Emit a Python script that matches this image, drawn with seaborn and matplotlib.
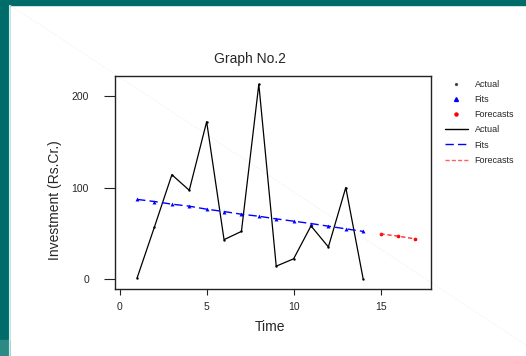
import matplotlib
matplotlib.use("Agg")
import matplotlib.pyplot as plt
from matplotlib.lines import Line2D
from matplotlib.patches import Rectangle
import seaborn as sns

# values
time_actual = list(range(1, 15))
actual = [1, 57, 114, 97, 172, 43, 52, 213, 14, 22, 58, 35, 100, 0]
fits = [87, 84.7, 81.8, 79.6, 76.3, 73.7, 70.8, 68.6, 65.7, 63.2, 60.6, 57.7, 54.8, 52]
time_fc = [15, 16, 17]
forecasts = [49.3, 46.8, 43.8]
x_ticks = [0, 5, 10, 15]
y_ticks = [0, 100, 200]

sns.set_style("ticks")
plt.rcParams['font.family'] = ['Liberation Sans', 'DejaVu Sans']

W, H = 526, 356
fig = plt.figure(figsize=(W / 100, H / 100), dpi=100, facecolor="white")

# slide decoration: teal frame + faint diagonal
teal = "#006c69"
fig.add_artist(Rectangle((0, 0), 9 / W, 1, transform=fig.transFigure, color=teal, zorder=-5))
fig.add_artist(Rectangle((0, 0), 9 / W, 16 / H, transform=fig.transFigure, color="#2b8a84", zorder=-4))
fig.add_artist(Rectangle((0, 1 - 5 / H), 1, 5 / H, transform=fig.transFigure, color=teal, zorder=-5))
fig.add_artist(Line2D([9.5 / W, 9.5 / W], [0, 1 - 5 / H], transform=fig.transFigure,
                      color="#c8eeee", lw=0.8, zorder=-3))
fig.add_artist(Line2D([10 / W, 1], [1 - 5 / H, 1 - 345 / H], transform=fig.transFigure,
                      color="#ececec", lw=0.5, ls=(0, (2, 2)), zorder=-3))

ax = fig.add_axes([115 / W, 1 - 289 / H, 316 / W, 213 / H])
ax.patch.set_alpha(0)

sns.lineplot(x=time_actual, y=actual, color="black", lw=0.9, ax=ax)
sns.scatterplot(x=time_actual, y=actual, color="black", s=3, marker="o", linewidth=0, ax=ax)
sns.lineplot(x=time_actual, y=fits, color="blue", lw=1.0, linestyle=(0, (6, 3)), ax=ax)
sns.scatterplot(x=time_actual, y=fits, color="blue", s=8, marker="^", linewidth=0, ax=ax)
sns.lineplot(x=time_fc, y=forecasts, color="#ff2a2a", lw=1.0, linestyle=(0, (3, 2)), ax=ax)
sns.scatterplot(x=time_fc, y=forecasts, color="red", s=7, marker="o", linewidth=0, ax=ax)

ax.set_xlim(-0.27, 17.9)
ax.set_ylim(-11, 222)
ax.set_xticks(x_ticks)
ax.set_yticks(y_ticks)
ax.tick_params(axis="x", length=4.5, width=0.8, pad=5, labelsize=7.5, color="#222222")
ax.tick_params(axis="y", length=7.7, width=0.8, pad=11, labelsize=7.5, color="#222222")
for s in ax.spines.values():
    s.set_color("#222222")
    s.set_linewidth(1.0)

ax.set_xlabel("Time", fontsize=10)
ax.xaxis.set_label_coords(0.49, -0.145)
ax.set_ylabel("Investment (Rs.Cr.)", fontsize=10)
ax.yaxis.set_label_coords(-0.168, 0.418)

fig.text(250 / W, 1 - 59 / H, "Graph No.2", ha="center", va="center", fontsize=10)

handles = [
    Line2D([], [], ls="none", marker="o", color="#444444", markersize=1.3),
    Line2D([], [], ls="none", marker="^", color="blue", markersize=2.8),
    Line2D([], [], ls="none", marker="o", color="red", markersize=2.2),
    Line2D([], [], color="black", lw=1.0),
    Line2D([], [], color="blue", lw=1.0, ls=(0, (6, 3))),
    Line2D([], [], color="#ff6060", lw=1.0, ls=(0, (3, 1.5))),
]
labels = ["Actual", "Fits", "Forecasts", "Actual", "Fits", "Forecasts"]
fig.legend(handles, labels, loc="upper left", bbox_to_anchor=(445 / W, 1 - 80 / H),
           frameon=False, fontsize=6.5, borderpad=0, borderaxespad=0,
           handlelength=2.5, handletextpad=0.78, labelspacing=0.68)

fig.savefig("out.png", dpi=100, facecolor="white")
